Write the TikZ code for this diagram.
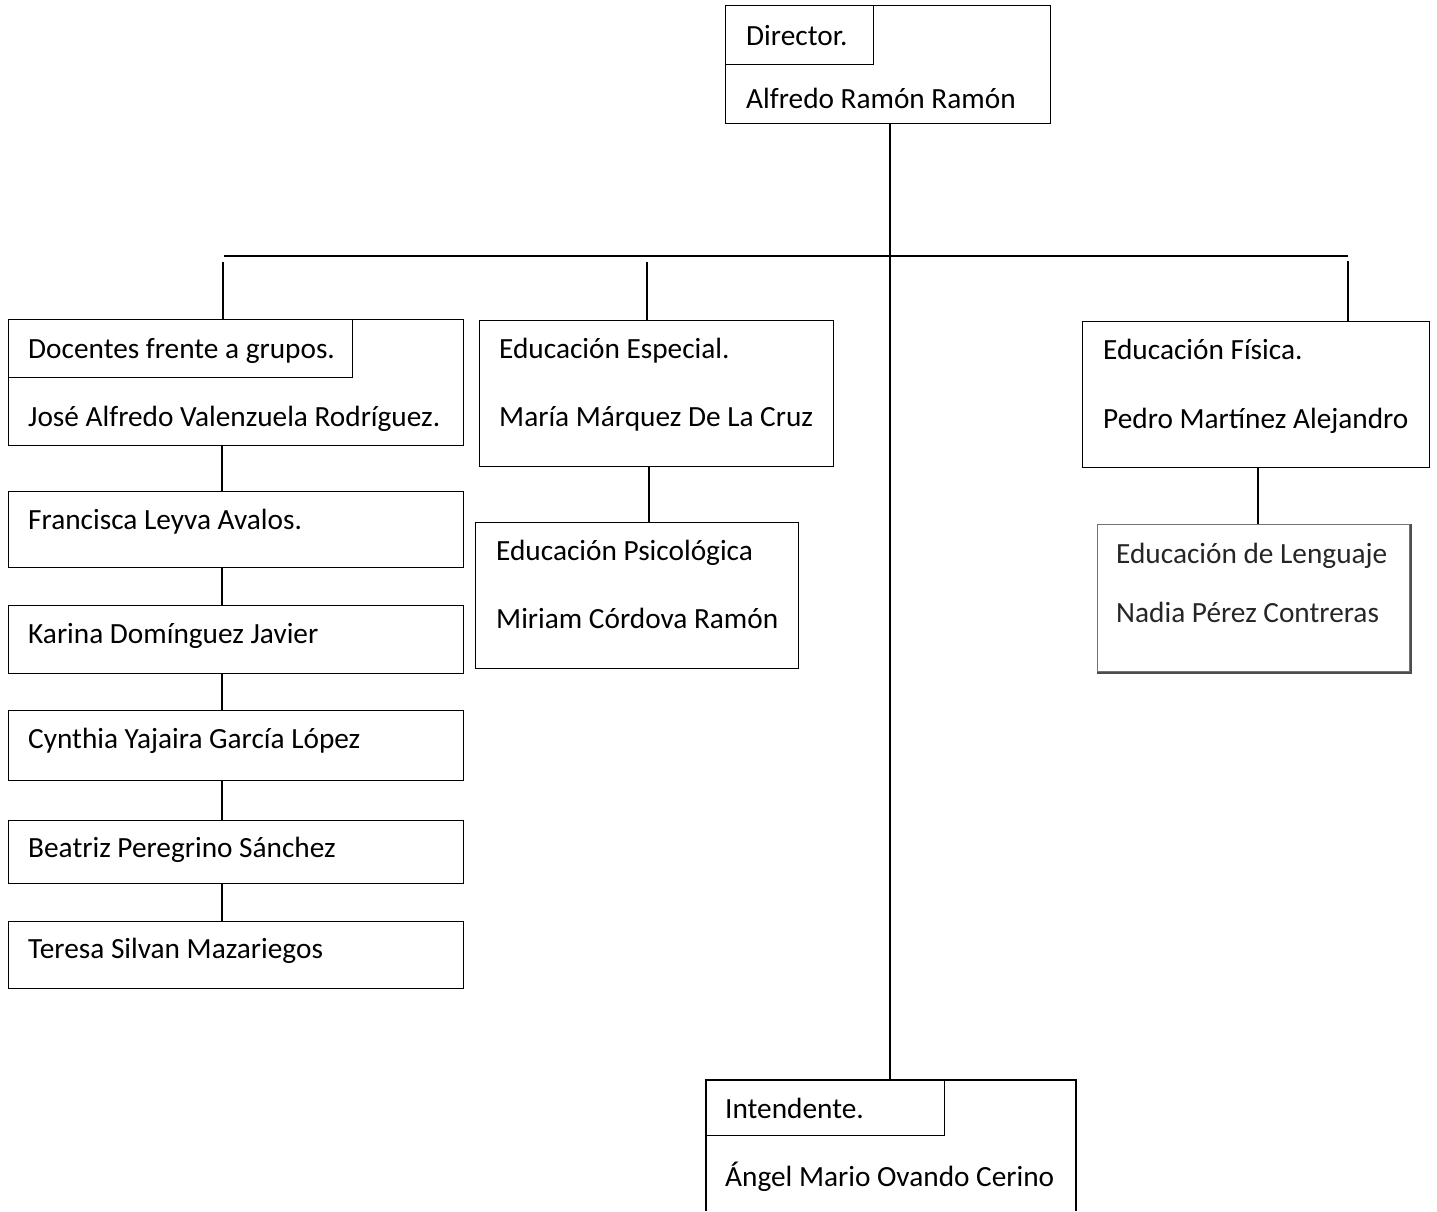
\documentclass[tikz,border=0pt]{standalone}
\usepackage{fontspec}
\setmainfont{Carlito}
\begin{document}
\begin{tikzpicture}[x=1pt,y=-1pt,
  font=\fontsize{29.3}{35}\selectfont,
  box/.style={draw=black, line width=1.4pt, rectangle, inner sep=0pt, anchor=north west},
  lbl/.style={anchor=base west, inner sep=0pt},
  conn/.style={draw=black, line width=1.6pt},
  shadowbox/.style={draw=black!55, line width=1.2pt, rectangle, inner sep=0pt, anchor=north west},
]
\useasboundingbox (0,0) rectangle (1437,1211);

% Director
\node[box, minimum width=325pt, minimum height=118pt] (dir) at (725,5) {};
\node[box, minimum width=148pt, minimum height=59pt] (dirT) at (725,5) {};
\node[lbl] (dirA) at (746,45) {Director.};
\node[lbl] (dirB) at (746,108) {Alfredo Ramón Ramón};

% Docentes
\node[box, minimum width=455pt, minimum height=126pt] (doc) at (8,319) {};
\node[box, minimum width=344pt, minimum height=58pt] (docT) at (8,319) {};
\node[lbl] (docA) at (28,358) {Docentes frente a grupos.};
\node[lbl] (docB) at (28,426) {José Alfredo Valenzuela Rodríguez.};

\node[box, minimum width=455pt, minimum height=76pt] (fra) at (8,491) {};
\node[lbl] at (28,529) {Francisca Leyva Avalos.};
\node[box, minimum width=455pt, minimum height=68pt] (kar) at (8,605) {};
\node[lbl] at (28,643) {Karina Domínguez Javier};
\node[box, minimum width=455pt, minimum height=70pt] (cyn) at (8,710) {};
\node[lbl] at (28,748) {Cynthia Yajaira García López};
\node[box, minimum width=455pt, minimum height=63pt] (bea) at (8,820) {};
\node[lbl] at (28,857) {Beatriz Peregrino Sánchez};
\node[box, minimum width=455pt, minimum height=67pt] (ter) at (8,921) {};
\node[lbl] at (28,958) {Teresa Silvan Mazariegos};

% Educacion Especial
\node[box, minimum width=354pt, minimum height=146pt] (esp) at (479,320) {};
\node[lbl] at (499,358) {Educación Especial.};
\node[lbl] at (499,426) {María Márquez De La Cruz};
\node[box, minimum width=323pt, minimum height=146pt] (psi) at (475,522) {};
\node[lbl] at (496,560) {Educación Psicológica};
\node[lbl] at (496,628) {Miriam Córdova Ramón};

% Educacion Fisica
\node[box, minimum width=347pt, minimum height=146pt] (fis) at (1082,321) {};
\node[lbl] at (1103,359) {Educación Física.};
\node[lbl] at (1103,428) {Pedro Martínez Alejandro};
\node[shadowbox, minimum width=312pt, minimum height=147pt] (len) at (1097,524) {};
\draw[black!70, line width=2.4pt] ([xshift=0.6pt]len.north east) -- ([xshift=0.6pt,yshift=-0.6pt]len.south east) -- ([yshift=-0.6pt]len.south west);
\node[lbl, text=black!85] at (1116,563) {Educación de Lenguaje};
\node[lbl, text=black!85] at (1116,622) {Nadia Pérez Contreras};

% Intendente
\coordinate (intNW) at (706,1080);
\coordinate (intNE) at (1076,1080);
\coordinate (intSW) at (706,1211);
\coordinate (intSE) at (1076,1211);
\draw[line width=1.4pt] (intSW) -- (intNW) -- (intNE) -- (intSE);
\node[box, minimum width=238pt, minimum height=55pt] (intT) at (706,1080) {};
\node[lbl] at (725,1118) {Intendente.};
\node[lbl] at (725,1186) {Ángel Mario Ovando Cerino};

% Connectors
\coordinate (trunk) at (890,256);
\coordinate (busL) at (224,256);
\coordinate (busR) at (1348,256);
\coordinate (dA) at (223,262);
\coordinate (dB) at (647,262);
\coordinate (dC) at (1348,261);
\coordinate (colL) at (222,0);
\coordinate (colE) at (649,0);
\coordinate (colF) at (1258,0);

\draw[conn] (dir.south -| trunk) -- (intNW -| trunk);
\draw[conn] (busL) -- (busR);
\draw[conn] (dA) -- (doc.north -| dA);
\draw[conn] (dB) -- (esp.north -| dB);
\draw[conn] (dC) -- (fis.north -| dC);
\draw[conn] (doc.south -| colL) -- (fra.north -| colL);
\draw[conn] (fra.south -| colL) -- (kar.north -| colL);
\draw[conn] (kar.south -| colL) -- (cyn.north -| colL);
\draw[conn] (cyn.south -| colL) -- (bea.north -| colL);
\draw[conn] (bea.south -| colL) -- (ter.north -| colL);
\draw[conn] (esp.south -| colE) -- (psi.north -| colE);
\draw[conn] (fis.south -| colF) -- (len.north -| colF);
\end{tikzpicture}
\end{document}
